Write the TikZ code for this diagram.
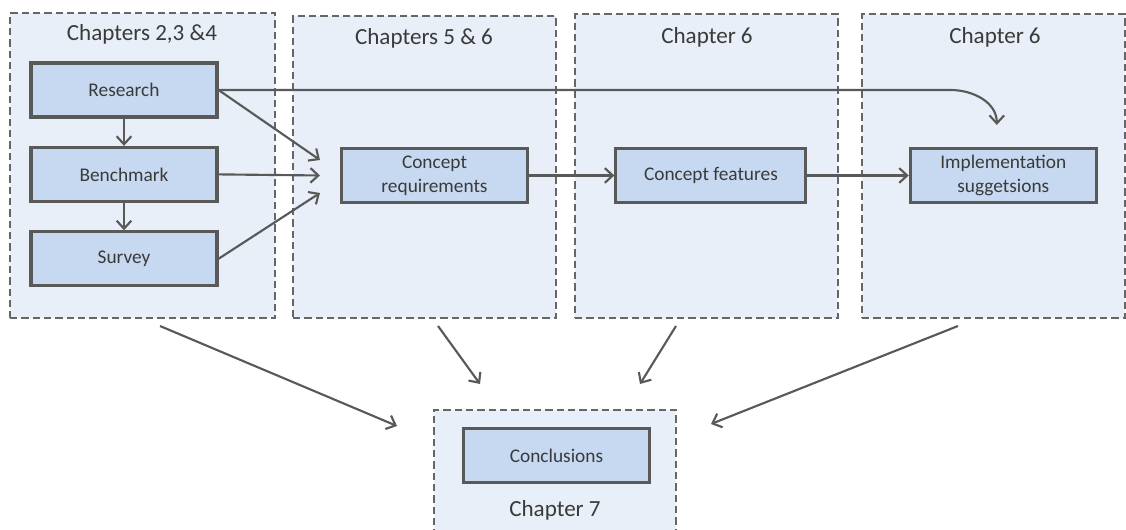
\documentclass[tikz,border=0pt]{standalone}
\usepackage{fontspec}
\setmainfont{Carlito}
\usetikzlibrary{fit,positioning,arrows.meta}
\definecolor{panelblue}{HTML}{E9EFF8}
\definecolor{boxblue}{HTML}{C6D9F1}
\definecolor{linegray}{HTML}{595959}
\definecolor{dashgray}{HTML}{666666}
\definecolor{txt}{HTML}{3A3A3A}
\newcommand{\boxfont}{\fontsize{14.5}{18}\selectfont}
\newcommand{\titlefont}{\fontsize{17.3}{20}\selectfont}

\begin{document}
\begin{tikzpicture} [
	x=0.75pt, y=0.75pt,
	node distance = 20.5pt and 64pt,
	panel/.style = {
		draw=dashgray,
		dash pattern=on 5.5pt off 3pt,
		line width=1.5pt,
		fill=panelblue,
		inner sep=0pt
	},
	box/.style = {
		draw=linegray,
		line width=2.3pt,
		fill=boxblue,
		minimum width=139.5pt,
		minimum height=40.5pt,
		align=center,
		text=txt,
		font=\boxfont
	},
	title/.style = {text=txt, font=\titlefont},
	link/.style = {draw=linegray, line width=1.6pt, -{Straight Barb[length=6pt,width=11pt]}}
]
\useasboundingbox (0,0) rectangle (1126,530);

% chapter panels
\node (p1) [panel, fit={(10,212) (275,517)}] {};
\node (p2) [panel, fit={(293,212) (556,514)}] {};
\node (p3) [panel, fit={(575,212) (838,516)}] {};
\node (p4) [panel, fit={(862,212) (1125,516)}] {};
\node (p5) [panel, fit={(434,-2) (676,120)}] {};

\node (t1) [title] at (142,496) {Chapters 2,3 \&4};
\node (t2) [title] at (424,492) {Chapters 5 \& 6};
\node (t3) [title] at (707,493) {Chapter 6};
\node (t4) [title] at (995,493) {Chapter 6};
\node (t5) [title] at (555,20) {Chapter 7};

% boxes
\node (res) [box] at (124,440) {Research};
\node (bench) [box, below=of res] {Benchmark};
\node (survey) [box, below=of bench] {Survey};
\node (creq) [box] at (434.5,354.5) {Concept\\requirements};
\node (cfeat) [box, right=of creq, minimum width=142.5pt] {Concept features};
\node (impl) [box, right=76pt of cfeat] {Implementation\\suggetsions};
\node (concl) [box] at (556.5,74.5) {Conclusions};

% arrows
\draw[link] (res) -- (bench);
\draw[link] (bench) -- (survey);
\draw[link] (res.east) -- ([shift={(-20,15.5)}]creq.west);
\draw[link] (bench.east) -- ([shift={(-20,0)}]creq.west);
\draw[link] (survey.east) -- ([shift={(-20,-17.5)}]creq.west);
\draw[link] (res.east) -- ++(732,0) to[out=0,in=90] ([shift={(-6.5,22)}]impl.north);
\draw[link] (creq) -- (cfeat);
\draw[link] (cfeat) -- (impl);

\draw[link] ([shift={(17.5,-7)}]p1.south) -- ([shift={(-36,-17)}]p5.north west);
\draw[link] ([shift={(13.5,-7)}]p2.south) -- ([shift={(-75,25)}]p5.north);
\draw[link] ([shift={(-30.5,-7)}]p3.south) -- ([shift={(85,25)}]p5.north);
\draw[link] ([shift={(-35.5,-7)}]p4.south) -- ([shift={(34,-15)}]p5.north east);

\end{tikzpicture}
\end{document}
